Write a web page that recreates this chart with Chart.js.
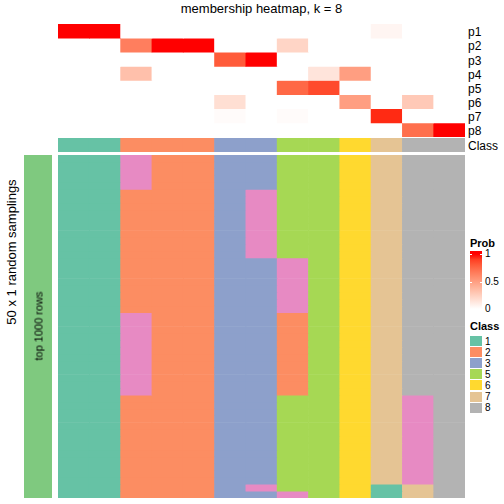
<!DOCTYPE html>
<html>
<head>
<meta charset="utf-8">
<script src="https://cdn.jsdelivr.net/npm/chart.js@4.4.1/dist/chart.umd.min.js"></script>
<style>
  body { margin: 0; width: 504px; height: 504px; position: relative; background: #fff; overflow: hidden;
         font-family: "Liberation Sans", Arial, sans-serif; color: #000; }
  canvas { position: absolute; }
  .t { position: absolute; white-space: nowrap; line-height: 1; }
  .rot { transform: translate(-50%, -50%) rotate(-90deg); }
  .sw { position: absolute; left: 470px; width: 12px; height: 10px; }
</style>
</head>
<body>
<div class="t" style="left:0;width:523px;text-align:center;top:2px;font-size:13px">membership heatmap, k = 8</div>

<canvas id="probChart" width="407" height="113" style="left:58px;top:24px"></canvas>
<canvas id="classChart" width="407" height="14" style="left:58px;top:138px"></canvas>
<canvas id="sampChart" width="407" height="343" style="left:58px;top:155px"></canvas>
<canvas id="sideChart" width="28" height="343" style="left:24px;top:155px"></canvas>

<div class="t rot" style="left:11px;top:252px;font-size:13px">50 x 1 random samplings</div>
<div class="t rot" style="left:39px;top:326px;font-size:11px">top 1000 rows</div>

<div id="rowLabels"></div>
<div id="legend"></div>

<script>
// ---- data ----
const classColors = { 1: '#66C2A5', 2: '#FC8D62', 3: '#8DA0CB', 4: '#E78AC3', 5: '#A6D854', 6: '#FFD92F', 7: '#E5C494', 8: '#B3B3B3' };
const legendClasses = [1, 2, 3, 5, 6, 7, 8];
const probTicks = [1, 0.5, 0];

// consensus class of each of the 13 samples (columns)
const sampleClass = [1, 1, 2, 2, 2, 3, 3, 5, 5, 6, 7, 8, 8];

// membership probabilities per class row
const probNames = ['p1', 'p2', 'p3', 'p4', 'p5', 'p6', 'p7', 'p8'];
const p1 = [1, 1, 0, 0, 0, 0, 0, 0, 0, 0, 0.05, 0, 0];
const p2 = [0, 0, 0.65, 1, 1, 0, 0, 0.22, 0, 0, 0, 0, 0];
const p3 = [0, 0, 0, 0, 0, 0.8, 1, 0, 0, 0, 0, 0, 0];
const p4 = [0, 0, 0.33, 0, 0, 0, 0, 0, 0.14, 0.5, 0, 0, 0];
const p5 = [0, 0, 0, 0, 0, 0, 0, 0.75, 0.86, 0, 0, 0, 0];
const p6 = [0, 0, 0, 0, 0, 0.17, 0, 0, 0, 0.5, 0, 0.28, 0];
const p7 = [0, 0, 0, 0, 0, 0.02, 0, 0.02, 0, 0, 0.95, 0, 0];
const p8 = [0, 0, 0, 0, 0, 0, 0, 0, 0, 0, 0, 0.72, 1];
const probRows = [p1, p2, p3, p4, p5, p6, p7, p8];

// class of each sample in each of the 50 random samplings (one string per sampling)
const samplings = [
  '1142233556788', '1142233556788', '1142233556788', '1142233556788', '1142233556788',
  '1122234556788', '1122234556788', '1122234556788', '1122234556788', '1122234556788',
  '1122234556788', '1122234556788', '1122234556788', '1122234556788', '1122234556788',
  '1122233456788', '1122233456788', '1122233456788', '1122233456788', '1122233456788',
  '1122233456788', '1122233456788', '1122233456788',
  '1142233256788', '1142233256788', '1142233256788', '1142233256788', '1142233256788',
  '1142233256788', '1142233256788', '1142233256788', '1142233256788', '1142233256788',
  '1142233256788', '1142233256788',
  '1122233556748', '1122233556748', '1122233556748', '1122233556748', '1122233556748',
  '1122233556748', '1122233556748', '1122233556748', '1122233556748', '1122233556748',
  '1122233556748', '1122233556748', '1122233556748',
  '1122234556178', '1122233456178'
];

// ---- colour helpers ----
const lab2rgb = (L, a, b) => {
  const fy = (L + 16) / 116;
  const fx = fy + a / 500;
  const fz = fy - b / 200;
  const inv = (t) => (t ** 3 > 0.008856 ? t ** 3 : (t - 16 / 116) / 7.787);
  const X = 0.95047 * inv(fx);
  const Y = inv(fy);
  const Z = 1.08883 * inv(fz);
  const lin = [
    3.2406 * X - 1.5372 * Y - 0.4986 * Z,
    -0.9689 * X + 1.8758 * Y + 0.0415 * Z,
    0.0557 * X - 0.2040 * Y + 1.0570 * Z
  ];
  const out = lin.map((c) => {
    const v = c <= 0.0031308 ? 12.92 * c : 1.055 * Math.pow(c, 1 / 2.4) - 0.055;
    return Math.round(Math.min(1, Math.max(0, v)) * 255);
  });
  return `rgb(${out[0]},${out[1]},${out[2]})`;
};
// white -> red interpolated in LAB
const probColor = (p) => lab2rgb(100 + (53.24 - 100) * p, 80.09 * p, 67.2 * p);

// ---- charts ----
const cols = sampleClass.map((_, i) => `s${i + 1}`);

const heat = (id, labels, datasets, rows) => new Chart(document.getElementById(id), {
  type: 'bar',
  data: { labels, datasets },
  options: {
    responsive: false,
    animation: false,
    layout: { padding: 0 },
    plugins: { legend: { display: false }, tooltip: { enabled: false } },
    datasets: { bar: { barPercentage: 1, categoryPercentage: 1, borderWidth: 0 } },
    scales: {
      x: { display: false, stacked: true },
      y: { display: false, stacked: true, reverse: true, min: 0, max: rows }
    }
  }
});

heat('probChart', cols, probRows.map((row, r) => ({
  label: probNames[r],
  data: row.map(() => 1),
  backgroundColor: row.map(probColor)
})), probRows.length);

heat('classChart', cols, [{
  label: 'Class',
  data: sampleClass.map(() => 1),
  backgroundColor: sampleClass.map((c) => classColors[c])
}], 1);

heat('sampChart', cols, samplings.map((s, r) => ({
  label: `sampling ${r + 1}`,
  data: [...s].map(() => 1),
  backgroundColor: [...s].map((c) => classColors[c])
})), samplings.length);

heat('sideChart', ['top 1000 rows'], [{ label: 'rows', data: [1], backgroundColor: '#7FC97F' }], 1);

// ---- text labels ----
const addText = (parent, txt, left, baseline, size, bold) => {
  const d = document.createElement('div');
  d.className = 't';
  d.textContent = txt;
  d.style.left = `${left}px`;
  d.style.top = `${baseline - 0.847 * size}px`;
  d.style.fontSize = `${size}px`;
  if (bold) d.style.fontWeight = 'bold';
  parent.appendChild(d);
};

const rowLabels = document.getElementById('rowLabels');
probNames.forEach((n, i) => addText(rowLabels, n, 468, 36.5 + i * 14.1, 12));
addText(rowLabels, 'Class', 468, 150, 12);

// ---- legends ----
const legend = document.getElementById('legend');
addText(legend, 'Prob', 470, 247, 11, true);
const barTop = 251;
const barH = 58;
const yOf = (v) => 309 - 55 * v;
const stops = [];
for (let i = 10; i >= 0; i -= 1) {
  const v = i / 10;
  stops.push(`${probColor(v)} ${((yOf(v) - barTop) / barH * 100).toFixed(1)}%`);
}
const grad = document.createElement('div');
grad.style.cssText = `position:absolute;left:470px;top:${barTop}px;width:12px;height:${barH}px;`
  + `background:linear-gradient(to bottom, ${stops.join(',')});`;
legend.appendChild(grad);
probTicks.forEach((v) => {
  if (v > 0) {
    [470, 480].forEach((x) => {
      const tk = document.createElement('div');
      tk.style.cssText = `position:absolute;left:${x}px;top:${Math.round(yOf(v))}px;width:2px;height:1px;background:#fff;`;
      legend.appendChild(tk);
    });
  }
  addText(legend, String(v), 485, yOf(v) + 3.5, 10);
});

addText(legend, 'Class', 470, 330.5, 11, true);
legendClasses.forEach((c, i) => {
  const sw = document.createElement('div');
  sw.className = 'sw';
  sw.style.top = `${336 + i * 11.1}px`;
  sw.style.background = classColors[c];
  legend.appendChild(sw);
  addText(legend, String(c), 485, 345 + i * 11.1, 10);
});
</script>
</body>
</html>
